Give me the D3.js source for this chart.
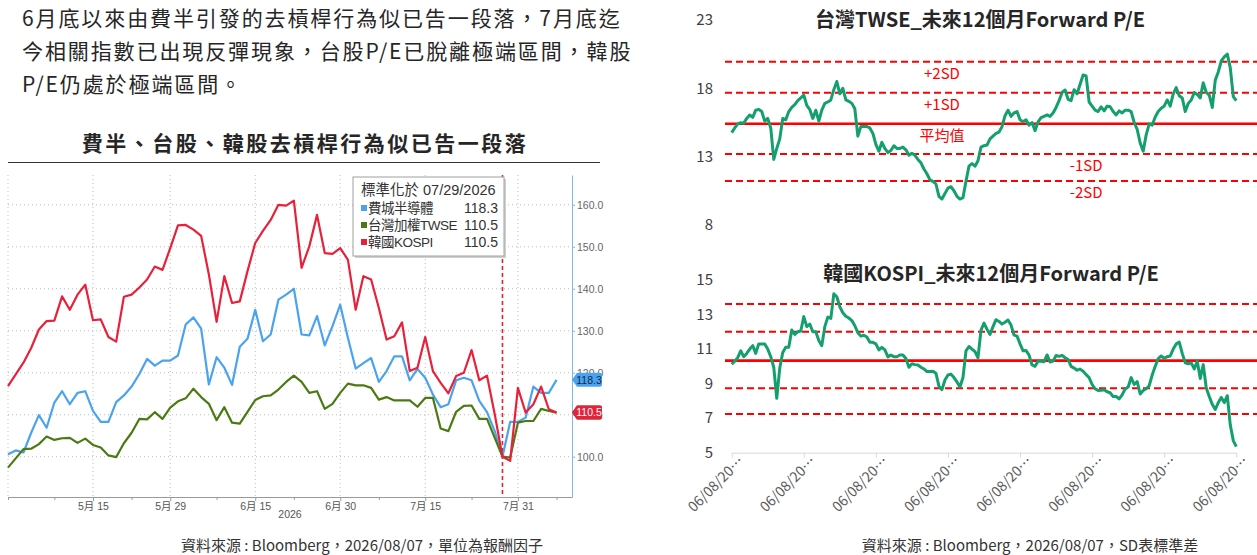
<!DOCTYPE html>
<html>
<head>
<meta charset="utf-8">
<script src="https://cdn.jsdelivr.net/npm/d3@7"></script>
<style>
  html, body { margin: 0; padding: 0; background: #fff; }
  svg { display: block; }
</style>
</head>
<body>
<svg id="chart" width="1257" height="555"></svg>
<script>
// ---------------- data ----------------
const introLines = [
    '6月底以來由費半引發的去槓桿行為似已告一段落，7月底迄',
    '今相關指數已出現反彈現象，台股P/E已脫離極端區間，韓股',
    'P/E仍處於極端區間。'
]
const leftTitle = '費半、台股、韓股去槓桿行為似已告一段落'
const sourceLeft = '資料來源 : Bloomberg，2026/08/07，單位為報酬因子'
const sourceRight = '資料來源 : Bloomberg，2026/08/07，SD表標準差'

// left chart: one value per trading day starting 04/30, normalised to 100 on 07/29
const soxIndex = [100.6, 101.5, 101.0, 105.7, 109.9, 106.9, 112.9, 115.6, 112.5, 115.2,
    115.6, 110.9, 108.3, 108.3, 113.0, 114.6, 116.7, 119.7, 123.3, 121.7,
    122.9, 122.9, 124.1, 131.5, 133.2, 130.5, 117.2, 123.7, 121.2, 117.1,
    126.2, 128.1, 135.0, 127.5, 129.1, 137.4, 138.6, 140.0, 129.1, 128.9,
    133.5, 126.5, 131.1, 136.2, 128.3, 121.0, 122.3, 123.5, 117.8, 120.4,
    123.9, 123.9, 118.2, 120.9, 118.8, 114.8, 111.8, 112.5, 118.2, 118.8,
    118.2, 113.3, 110.6, 106.1, 100.0, 108.3, 108.3, 109.3, 116.7, 115.2,
    115.2, 118.3]
const twseIndex = [97.4, 99.6, 101.8, 101.9, 103.0, 104.8, 104.0, 104.4, 104.5, 103.3,
    104.3, 102.8, 102.2, 100.3, 99.9, 103.2, 105.7, 109.0, 108.9, 110.6,
    109.0, 111.7, 113.2, 113.9, 116.2, 114.2, 112.6, 108.7, 111.8, 108.1,
    107.9, 110.7, 113.5, 114.4, 114.6, 116.0, 117.8, 119.3, 117.8, 115.2,
    115.6, 111.4, 112.6, 115.2, 117.4, 117.0, 117.0, 116.4, 113.6, 114.2,
    113.4, 113.4, 113.4, 111.9, 114.0, 114.0, 106.7, 106.1, 110.7, 112.1,
    112.2, 109.0, 109.0, 104.5, 100.0, 99.8, 108.1, 108.5, 108.5, 111.4,
    110.9, 110.5]
const kospiIndex = [116.8, 119.6, 122.4, 125.9, 130.3, 132.3, 132.4, 138.2, 135.0, 138.6,
    141.0, 132.5, 132.7, 128.5, 127.4, 138.1, 138.6, 140.3, 142.2, 145.3,
    144.5, 149.7, 155.1, 155.2, 154.1, 152.6, 143.4, 132.1, 143.0, 136.6,
    137.0, 144.2, 150.9, 153.8, 156.4, 160.0, 159.8, 161.0, 145.0, 150.1,
    157.6, 148.5, 148.3, 149.7, 146.9, 135.0, 143.0, 142.2, 135.4, 127.9,
    128.7, 132.0, 120.4, 121.2, 128.5, 120.4, 117.6, 115.1, 119.2, 120.0,
    125.4, 118.2, 119.3, 110.1, 100.0, 99.0, 116.4, 110.5, 112.5, 116.7,
    111.3, 110.5]
const seriesNames = ['費城半導體', '台灣加權TWSE', '韓國KOSPI']
const legendTitle = '標準化於 07/29/2026'
const normDay = 64
const dayTicks = [11, 21, 32, 43, 54, 66]
const dayTickLabels = ['5月 15', '5月 29', '6月 15', '6月 30', '7月 15', '7月 31']
const dayMinorTicks = [0, 6, 16, 27, 37, 48, 60, 71]
const yearLabel = '2026'
const indexTicks = [100, 110, 120, 130, 140, 150, 160]

// right charts: forward P/E, two readings a month over seven years
const twsePE = [14.76, 15.1, 15.4, 15.49, 15.44, 15.8, 16.05, 15.88, 16.4, 16.46,
    16.3, 15.6, 15.8, 15.1, 12.8, 13.6, 14.3, 15.8, 15.7, 16.3,
    16.6, 16.8, 17.1, 17.3, 17.5, 16.75, 16.45, 15.8, 16.4, 15.6,
    16.4, 16.9, 17.0, 17.15, 17.9, 18.5, 17.6, 18.0, 17.15, 17.05,
    16.9, 16.5, 14.5, 15.2, 15.2, 15.2, 15.1, 14.7, 13.9, 13.4,
    14.05, 13.6, 13.3, 13.45, 13.8, 13.6, 13.6, 13.7, 13.5, 13.1,
    13.25, 13.1, 12.8, 12.55, 12.1, 11.75, 11.3, 11.2, 11.0, 10.1,
    9.9, 10.3, 10.7, 10.8, 10.5, 10.1, 9.9, 10.0, 11.2, 12.3,
    12.5, 12.3, 12.7, 13.7, 13.8, 13.85, 14.3, 14.5, 14.7, 14.8,
    15.2, 16.0, 16.4, 15.95, 16.2, 16.3, 15.7, 15.56, 15.7, 15.3,
    15.5, 14.9, 15.55, 15.85, 15.95, 16.05, 15.95, 16.2, 16.6, 17.1,
    17.7, 17.88, 17.2, 17.1, 17.9, 17.6, 18.3, 18.98, 18.9, 17.0,
    16.7, 16.4, 16.3, 16.65, 16.35, 16.7, 16.65, 16.3, 16.05, 16.35,
    16.2, 16.4, 16.4, 16.3, 15.5, 15.0, 14.0, 13.4, 14.6, 15.4,
    15.3, 15.9, 16.3, 16.54, 16.7, 17.15, 16.7, 17.6, 18.05, 17.45,
    17.3, 16.3, 16.9, 17.15, 17.7, 17.55, 17.3, 18.4, 17.7, 17.5,
    16.6, 18.6, 19.2, 20.0, 20.3, 20.5, 19.5, 17.4, 17.1]
const kospiPE = [10.12, 10.3, 10.5, 10.9, 10.56, 10.75, 11.0, 11.2, 10.75, 11.3,
    11.3, 11.3, 11.0, 10.56, 9.95, 8.15, 9.9, 10.8, 11.1, 11.1,
    12.1, 11.85, 12.0, 12.05, 12.88, 12.3, 12.45, 12.0, 12.0, 11.5,
    11.2, 12.3, 12.85, 12.78, 14.2, 14.03, 13.45, 13.1, 12.9, 12.8,
    12.65, 12.35, 11.95, 11.75, 11.8, 11.7, 11.4, 11.39, 11.3, 10.95,
    11.1, 10.95, 10.55, 10.65, 10.56, 10.56, 10.66, 10.66, 10.45, 9.95,
    10.15, 10.1, 10.08, 9.95, 9.85, 9.7, 9.7, 9.72, 9.6, 8.85,
    8.65, 9.21, 9.5, 9.55, 9.35, 9.1, 8.8, 9.35, 10.9, 11.15,
    11.0, 10.85, 10.5, 12.1, 12.5, 12.15, 11.85, 12.3, 12.7, 12.6,
    12.45, 12.55, 12.68, 12.39, 11.81, 11.75, 11.3, 10.9, 10.92, 10.65,
    10.08, 10.0, 10.3, 10.3, 10.27, 10.66, 10.25, 10.3, 10.63, 10.58,
    10.64, 10.5, 10.4, 10.0, 9.9, 9.78, 9.84, 9.72, 9.52, 9.35,
    8.95, 8.7, 8.6, 8.62, 8.65, 8.53, 8.47, 8.25, 8.25, 8.12,
    8.35, 8.7, 8.8, 9.35, 8.95, 9.12, 8.4, 8.6, 8.7, 8.88,
    9.5, 10.0, 10.45, 10.6, 10.47, 10.56, 10.6, 11.0, 11.3, 11.4,
    10.75, 10.2, 10.15, 10.2, 9.85, 10.3, 9.3, 10.1, 8.75, 8.25,
    7.8, 7.5, 7.9, 8.2, 7.9, 8.3, 6.6, 5.7, 5.35]
const twseTitle = '台灣TWSE_未來12個月Forward P/E'
const kospiTitle = '韓國KOSPI_未來12個月Forward P/E'
const twseBands = [19.95, 17.68, 15.41, 13.19, 11.22]
const kospiBands = [13.61, 12.01, 10.33, 8.73, 7.24]
const bandLabels = ['+2SD', '+1SD', '平均值', '-1SD', '-2SD']
const bandLabelAt = [70, 70, 70, 118, 118]
const twseTicks = [23, 18, 13, 8]
const kospiTicks = [15, 13, 11, 9, 7, 5]
const peYearTicks = [0, 24, 48, 72, 96, 120, 144, 168]
const peTickLabel = '06/08/20…'

// ---------------- page ----------------
const CJK = '"Noto Sans CJK TC", "Noto Sans", sans-serif'
const NARROW = '"Liberation Sans Narrow", "Liberation Sans", "Noto Sans CJK TC", sans-serif'
const svg = d3.select('#chart')

function drawIntro() {
    svg.append('g')
        .selectAll('text')
        .data(introLines)
        .join('text')
        .attr('x', 22)
        .attr('y', (d, i) => 26 + i * 33)
        .attr('font-family', CJK)
        .attr('font-size', 21)
        .attr('letter-spacing', '1.9px')
        .attr('fill', '#262626')
        .text(d => d)

    svg.append('text')
        .attr('x', 305)
        .attr('y', 151)
        .attr('text-anchor', 'middle')
        .attr('font-family', CJK)
        .attr('font-size', 21)
        .attr('font-weight', 700)
        .attr('letter-spacing', '2.5px')
        .attr('fill', '#262626')
        .text(leftTitle)

    svg.append('line')
        .attr('x1', 8).attr('x2', 600)
        .attr('y1', 162.5).attr('y2', 162.5)
        .attr('stroke', '#333')
        .attr('stroke-width', 1)

    const sources = [[sourceLeft, 362], [sourceRight, 1030]]
    svg.append('g')
        .selectAll('text')
        .data(sources)
        .join('text')
        .attr('x', d => d[1])
        .attr('y', 551)
        .attr('text-anchor', 'middle')
        .attr('font-family', CJK)
        .attr('font-size', 15)
        .attr('fill', '#333')
        .text(d => d[0])
}

// ---------------- left chart ----------------
function drawIndexChart() {
    const g = svg.append('g').attr('id', 'indexChart')
    const x = d3.scaleLinear().domain([0, 73]).range([8, 572])
    const y = d3.scaleLinear().domain([90.4, 167.1]).range([497, 175])

    // dotted grid
    g.append('g')
        .selectAll('line')
        .data(indexTicks)
        .join('line')
        .attr('x1', x(0)).attr('x2', x(73))
        .attr('y1', d => y(d)).attr('y2', d => y(d))
        .attr('stroke', '#bdbdbd')
        .attr('stroke-dasharray', '1,3')
    g.append('g')
        .selectAll('line')
        .data([0].concat(dayTicks))
        .join('line')
        .attr('x1', d => x(d)).attr('x2', d => x(d))
        .attr('y1', 175).attr('y2', 497)
        .attr('stroke', '#bdbdbd')
        .attr('stroke-dasharray', '1,3')

    // bottom axis
    const xAxis = g.append('g')
        .attr('transform', 'translate(0,497)')
        .call(d3.axisBottom(x).tickValues(dayTicks)
            .tickFormat((d, i) => dayTickLabels[i]).tickSize(4).tickSizeOuter(0))
    xAxis.select('.domain').attr('stroke', '#9a9a9a')
    xAxis.selectAll('.tick line').attr('stroke', '#9a9a9a')
    xAxis.selectAll('text')
        .attr('font-family', NARROW)
        .attr('font-size', 10.5)
        .attr('fill', '#555')
        .attr('dy', '0.6em')
    const minor = g.append('g')
        .attr('transform', 'translate(0,497)')
        .call(d3.axisBottom(x).tickValues(dayMinorTicks).tickFormat('').tickSize(3).tickSizeOuter(0))
    minor.select('.domain').remove()
    minor.selectAll('.tick line').attr('stroke', '#9a9a9a')

    g.append('text')
        .attr('x', 290)
        .attr('y', 518)
        .attr('text-anchor', 'middle')
        .attr('font-family', NARROW)
        .attr('font-size', 10.5)
        .attr('fill', '#555')
        .text(yearLabel)

    // right axis
    const yAxis = g.append('g')
        .attr('transform', 'translate(572,0)')
        .call(d3.axisRight(y).tickValues(indexTicks).tickFormat(d3.format('.1f'))
            .tickSize(3).tickSizeOuter(0).tickPadding(2))
    yAxis.select('.domain').attr('stroke', '#7db9ea')
    yAxis.selectAll('.tick line').attr('stroke', '#7db9ea')
    yAxis.selectAll('text')
        .attr('font-family', NARROW)
        .attr('font-size', 10.5)
        .attr('fill', '#666')

    // normalisation date
    g.append('line')
        .attr('x1', x(normDay)).attr('x2', x(normDay))
        .attr('y1', 175).attr('y2', 497)
        .attr('stroke', '#e8202a')
        .attr('stroke-width', 1.6)
        .attr('stroke-dasharray', '4,3')

    const series = [
        { name: seriesNames[0], values: soxIndex, color: '#4ba3ee', text: '#0d2b55' },
        { name: seriesNames[1], values: twseIndex, color: '#4c7a12', text: '#fff' },
        { name: seriesNames[2], values: kospiIndex, color: '#e8213b', text: '#fff' }
    ]
    const line = d3.line().x((d, i) => x(i)).y(d => y(d))
    g.append('g')
        .selectAll('path')
        .data(series)
        .join('path')
        .attr('d', d => line(d.values))
        .attr('fill', 'none')
        .attr('stroke', d => d.color)
        .attr('stroke-width', 2.2)
        .attr('stroke-linejoin', 'round')

    // last-value tags on the right axis
    const tags = g.append('g')
        .selectAll('g')
        .data(series)
        .join('g')
        .attr('transform', d => 'translate(572,' + y(d.values[d.values.length - 1]) + ')')
    tags.append('path')
        .attr('d', 'M0,0 L5,-7 L28,-7 Q30,-7 30,-5 L30,5 Q30,7 28,7 L5,7 Z')
        .attr('fill', d => d.color)
    tags.append('text')
        .attr('x', 17)
        .attr('y', 0)
        .attr('dy', '0.35em')
        .attr('text-anchor', 'middle')
        .attr('font-family', NARROW)
        .attr('font-size', 10.5)
        .attr('fill', d => d.text)
        .text(d => d3.format('.1f')(d.values[d.values.length - 1]))

    // legend box
    const lg = g.append('g').attr('transform', 'translate(353,177)')
    lg.append('rect')
        .attr('x', 2).attr('y', 2)
        .attr('width', 151).attr('height', 79)
        .attr('fill', '#d0d0d0')
    lg.append('rect')
        .attr('width', 151).attr('height', 79)
        .attr('fill', '#fff')
        .attr('stroke', '#a0a0a0')
    lg.append('text')
        .attr('x', 8).attr('y', 18)
        .attr('font-family', NARROW)
        .attr('font-size', 14.5)
        .attr('fill', '#333')
        .text(legendTitle)
    const items = lg.selectAll('.item')
        .data(series)
        .join('g')
        .attr('class', 'item')
        .attr('transform', (d, i) => 'translate(0,' + (36 + i * 17) + ')')
    items.append('rect')
        .attr('x', 8).attr('y', -8)
        .attr('width', 6).attr('height', 6)
        .attr('fill', d => d.color)
    items.append('text')
        .attr('x', 15)
        .attr('font-family', NARROW)
        .attr('font-size', 13.5)
        .attr('letter-spacing', '-0.5px')
        .attr('fill', '#333')
        .text(d => d.name)
    items.append('text')
        .attr('x', 145)
        .attr('text-anchor', 'end')
        .attr('font-family', NARROW)
        .attr('font-size', 14)
        .attr('fill', '#333')
        .text(d => d3.format('.1f')(d.values[d.values.length - 1]))
}

// ---------------- right charts ----------------
const peX = d3.scaleLinear().domain([0, 168]).range([731.7, 1236.3])

function drawPEChart(cfg) {
    const g = svg.append('g')
    const y = d3.scaleLinear().domain(cfg.domain).range(cfg.range)

    g.append('text')
        .attr('x', cfg.titleX)
        .attr('y', cfg.titleY)
        .attr('text-anchor', 'middle')
        .attr('font-family', CJK)
        .attr('font-size', 20)
        .attr('font-weight', 700)
        .attr('fill', '#262626')
        .text(cfg.title)

    const yAxis = g.append('g')
        .attr('transform', 'translate(713,0)')
        .call(d3.axisLeft(y).tickValues(cfg.ticks).tickSize(0).tickPadding(0))
    yAxis.select('.domain').remove()
    yAxis.selectAll('text')
        .attr('font-family', CJK)
        .attr('font-size', 15)
        .attr('fill', '#404040')

    g.append('g')
        .selectAll('line')
        .data(cfg.bands)
        .join('line')
        .attr('x1', 725).attr('x2', 1257)
        .attr('y1', d => y(d)).attr('y2', d => y(d))
        .attr('stroke', '#ff0000')
        .attr('stroke-width', (d, i) => i === 2 ? 2.6 : 2)
        .attr('stroke-dasharray', (d, i) => i === 2 ? null : '7,4')

    if (cfg.labels) {
        g.append('g')
            .selectAll('text')
            .data(cfg.bands)
            .join('text')
            .attr('x', (d, i) => peX(bandLabelAt[i]))
            .attr('y', d => y(d) + 17)
            .attr('text-anchor', 'middle')
            .attr('font-family', CJK)
            .attr('font-size', 15)
            .attr('fill', '#ff0000')
            .text((d, i) => bandLabels[i])
    }

    g.append('path')
        .datum(cfg.values)
        .attr('d', d3.line().x((d, i) => peX(i)).y(d => y(d)))
        .attr('fill', 'none')
        .attr('stroke', '#14a06e')
        .attr('stroke-width', 3)
        .attr('stroke-linejoin', 'round')

    if (cfg.xAxis) {
        const xAxis = g.append('g')
            .attr('transform', 'translate(0,' + cfg.range[0] + ')')
            .call(d3.axisBottom(peX).tickValues(peYearTicks).tickFormat(() => peTickLabel)
                .tickSize(5).tickSizeOuter(0))
        xAxis.select('.domain').attr('stroke', '#d9d9d9')
        xAxis.selectAll('.tick line').attr('stroke', '#d9d9d9')
        xAxis.selectAll('text')
            .attr('font-family', CJK)
            .attr('font-size', 14)
            .attr('fill', '#595959')
            .attr('text-anchor', 'end')
            .attr('transform', 'translate(9,6) rotate(-45)')
            .attr('x', 0).attr('y', 0).attr('dy', '0.35em')
    }
}

drawIntro()
drawIndexChart()
drawPEChart({
    title: twseTitle, titleX: 980, titleY: 27,
    domain: [8, 23], range: [225, 20], ticks: twseTicks,
    bands: twseBands, values: twsePE, labels: true, xAxis: false
})
drawPEChart({
    title: kospiTitle, titleX: 991, titleY: 281,
    domain: [5, 15], range: [452.7, 280], ticks: kospiTicks,
    bands: kospiBands, values: kospiPE, labels: false, xAxis: true
})
</script>
</body>
</html>
